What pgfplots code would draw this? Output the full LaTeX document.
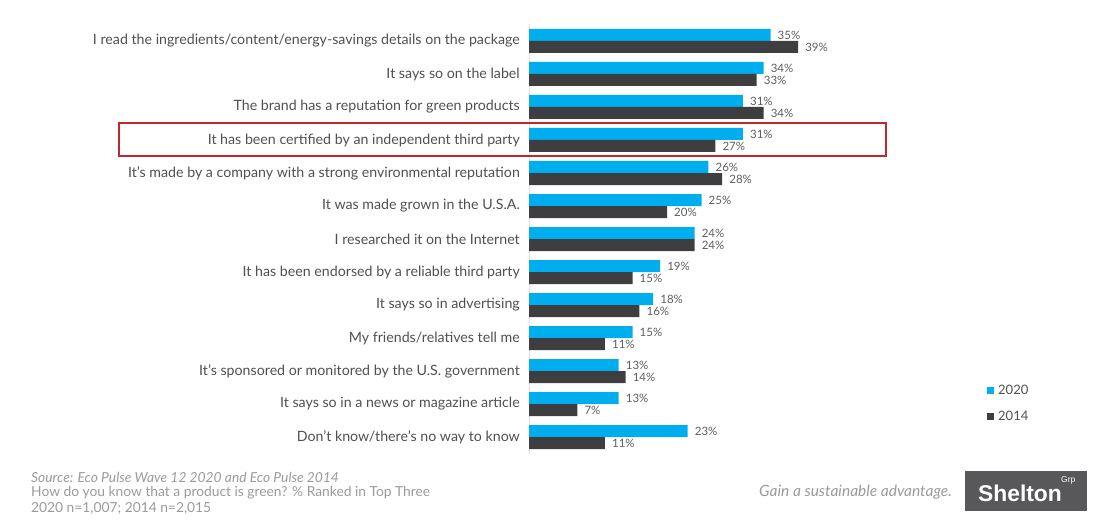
\documentclass[border=0pt]{standalone}
\usepackage{pgfplots}
\pgfplotsset{compat=1.18}
\usepackage{pgfplotstable}
\usepackage{fontspec}
\setmainfont{Lato}
\newfontfamily\logofont{Liberation Sans}
\definecolor{cblue}{HTML}{00AEEF}
\definecolor{cdark}{HTML}{3E3D40}
\definecolor{lbl}{HTML}{505050}
\definecolor{val}{HTML}{5E5E5E}
\definecolor{foot}{HTML}{9A9A9A}
\definecolor{redbox}{HTML}{C1272D}
\definecolor{logo}{HTML}{58585A}

\pgfplotstableread{
y a b
12 35 39
11 34 33
10 31 34
9 31 27
8 26 28
7 25 20
6 24 24
5 19 15
4 18 16
3 15 11
2 13 14
1 13 7
0 23 11
}\data

\begin{document}
\begin{tikzpicture}[x=1pt,y=1pt]
\path[use as bounding box] (0,0) rectangle (1102,520);
\begin{axis}[
  at={(529pt,66.5pt)}, anchor=south west,
  scale only axis, width=345pt, height=429pt,
  xbar, bar width=12pt,
  xmin=0, xmax=50, ymin=-0.5, ymax=12.5,
  axis x line=none, axis y line=left,
  y axis line style={draw=gray!25, -},
  ytick={0,...,12},
  yticklabels={Don't know/there's no way to know,
    It says so in a news or magazine article,
    It's sponsored or monitored by the U.S. government,
    My friends/relatives tell me,
    It says so in advertising,
    It has been endorsed by a reliable third party,
    I researched it on the Internet,
    It was made grown in the U.S.A.,
    It's made by a company with a strong environmental reputation,
    It has been certified by an independent third party,
    The brand has a reputation for green products,
    It says so on the label,
    I read the ingredients/content/energy-savings details on the package},
  major tick length=0pt,
  yticklabel style={font=\fontsize{14.2}{16}\selectfont, text=lbl, inner sep=0pt, xshift=-9pt},
  point meta=x,
  nodes near coords={\pgfmathprintnumber[assume math mode=true]{\pgfplotspointmeta}\%},
  every node near coord/.append style={font=\fontsize{11.5}{12}\selectfont, text=val, inner sep=0pt, anchor=west, xshift=7pt},
  legend style={at={(axis description cs:1.327,0.164)}, anchor=north west, draw=none, fill=none,
    font=\fontsize{13}{14}\selectfont, text=lbl, row sep=11pt, inner sep=0pt,
    /tikz/every even column/.append style={column sep=2pt}},
  legend image code/.code={\fill[#1,draw=none] (0pt,-3pt) rectangle (7pt,4pt);},
  clip=false,
]
\addplot[fill=cblue, draw=none, bar shift=6pt] table[x=a, y=y] {\data};
\addplot[fill=cdark, draw=none, bar shift=-6pt] table[x=b, y=y] {\data};
\legend{\,2020,\,2014}
\end{axis}
\draw[redbox, line width=1.5pt] (119,397) rectangle (886,364);
\node[anchor=west, text=foot, inner sep=0pt, font=\fontsize{13.8}{15}\selectfont\itshape] at (31,43) {Source: Eco Pulse Wave 12 2020 and Eco Pulse 2014};
\node[anchor=west, text=foot, inner sep=0pt, font=\fontsize{13.8}{15}\selectfont] at (31,27) {How do you know that a product is green? \% Ranked in Top Three};
\node[anchor=west, text=foot, inner sep=0pt, font=\fontsize{13.8}{15}\selectfont] at (31,12) {2020 n=1,007; 2014 n=2,015};
\node[anchor=east, text=foot, inner sep=0pt, font=\fontsize{15.5}{16}\selectfont\itshape] at (952,28) {Gain a sustainable advantage.};
\fill[logo] (965,9) rectangle (1087,49);
\node[anchor=west, text=white, inner sep=0pt, font=\fontsize{22.8}{24}\logofont\bfseries] at (978,27) {Shelton};
\node[anchor=west, text=white, inner sep=0pt, font=\fontsize{8.5}{9}\logofont] at (1061,40) {Grp};
\end{tikzpicture}
\end{document}
